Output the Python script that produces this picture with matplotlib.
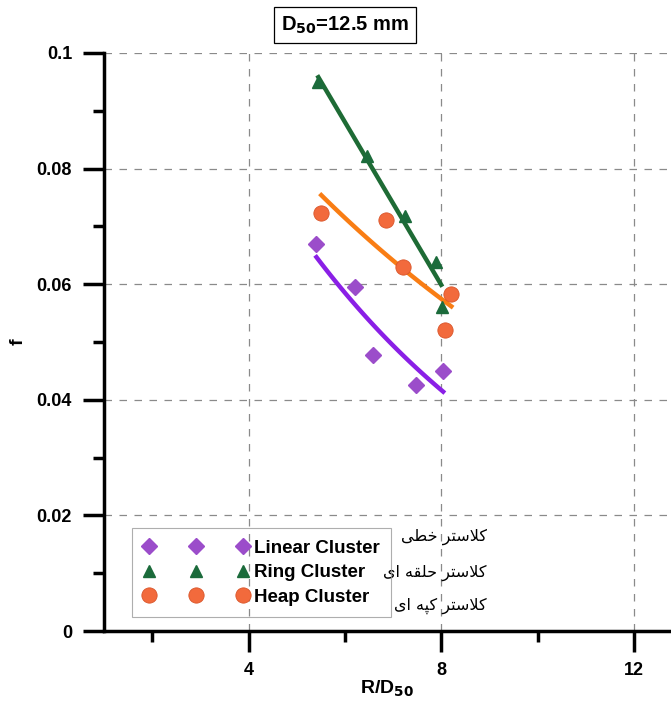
import numpy as np
import matplotlib
matplotlib.use('Agg')
import matplotlib.pyplot as plt
from matplotlib.ticker import MultipleLocator

plt.rcParams['font.family'] = ['Liberation Sans', 'DejaVu Sans']
plt.rcParams['font.weight'] = 'bold'

# data
linear_x = [5.41, 6.20, 6.59, 7.48, 8.04]
linear_f = [0.0670, 0.0595, 0.0478, 0.0426, 0.0450]
ring_x = [5.45, 6.45, 7.25, 7.90, 8.02]
ring_f = [0.0950, 0.0822, 0.0718, 0.0638, 0.0561]
heap_x = [5.51, 6.86, 7.21, 8.21, 8.08]
heap_f = [0.0723, 0.0711, 0.0630, 0.0583, 0.0521]

labels = ['Linear Cluster', 'Ring Cluster', 'Heap Cluster']

# persian notes, written with presentation forms then put in visual order
fa_linear = '\uFB90\uFEFC\uFEB3\uFE98\uFEAE \uFEA7\uFEC4\uFBFD'[::-1]
fa_ring = '\uFB90\uFEFC\uFEB3\uFE98\uFEAE \uFEA3\uFEE0\uFED8\uFEEA \uFE8D\uFBFC'[::-1]
fa_heap = '\uFB90\uFEFC\uFEB3\uFE98\uFEAE \uFB90\uFB59\uFEEA \uFE8D\uFBFC'[::-1]


def linfit(x, y):
    x = np.array(x)
    b, a = np.polyfit(x, y, 1)
    xs = np.linspace(x.min(), 8.0, 50)
    return xs, a + b * xs


def expfit(x, y):
    x = np.array(x)
    y = np.array(y)
    b, a = np.polyfit(x, np.log(y), 1)
    xs = np.linspace(x.min(), x.max(), 50)
    return xs, np.exp(a + b * xs)


fig = plt.figure(figsize=(6.71, 7.11), dpi=100)
ax = fig.add_axes([0.155, 0.1125, 0.845, 0.813])

xs, ys = linfit(ring_x, ring_f)
ax.plot(xs, ys, color='#1e6b35', lw=3.2, zorder=3)
xs, ys = expfit(heap_x, heap_f)
ax.plot(xs, ys, color='#f97d14', lw=3.2, zorder=3)
xs, ys = expfit(linear_x, linear_f)
ax.plot(xs, ys, color='#8a1fe6', lw=3.2, zorder=3)

ax.plot(linear_x, linear_f, 'D', color='#9b4dca', ms=8, ls='none', label=labels[0], zorder=4)
ax.plot(ring_x, ring_f, '^', color='#1b6b3b', ms=9, ls='none', label=labels[1], zorder=4)
ax.plot(heap_x, heap_f, 'o', color='#f26a3c', mec='#d9552a', mew=0.6, ms=11, ls='none', label=labels[2], zorder=4)

ax.set_xlim(1, 12.77)
ax.set_ylim(0, 0.1)
ax.xaxis.set_minor_locator(MultipleLocator(2))
ax.yaxis.set_minor_locator(MultipleLocator(0.01))
ax.set_yticks([0, 0.02, 0.04, 0.06, 0.08, 0.1])
ax.set_yticklabels(['0', '0.02', '0.04', '0.06', '0.08', '0.1'])
ax.set_xticks([4, 8, 12])
ax.set_xticklabels(['4', '8', '12'])

for s in ['top', 'right']:
    ax.spines[s].set_visible(False)
for s in ['left', 'bottom']:
    ax.spines[s].set_linewidth(2.5)

ax.tick_params(which='major', direction='out', length=15, width=2.5, labelsize=13)
ax.tick_params(axis='y', which='major', pad=8)
ax.tick_params(axis='x', which='major', pad=7)
ax.tick_params(which='minor', direction='out', length=8, width=2.5)
ax.grid(True, which='major', ls=(0, (6, 6)), color='#8a8a8a', lw=0.9)
ax.set_axisbelow(True)

ax.set_xlabel('R/D$_{50}$', fontsize=14, fontweight='bold', labelpad=0)
ax.set_ylabel('f', fontsize=14, fontweight='bold')
ax.yaxis.set_label_coords(-0.137, 0.5)

leg = ax.legend(loc='lower left', bbox_to_anchor=(0.05, 0.024), numpoints=3,
                handlelength=5.6, handletextpad=0.3, fontsize=13.5, frameon=True,
                fancybox=False, borderpad=0.6, labelspacing=0.4, borderaxespad=0)
leg.get_frame().set_facecolor('none')
leg.get_frame().set_edgecolor('#9a9a9a')
leg.get_frame().set_linewidth(0.8)

for txt, yy in zip([fa_linear, fa_ring, fa_heap], [0.163, 0.100, 0.043]):
    ax.text(0.675, yy, txt, transform=ax.transAxes, ha='right', va='center',
            fontsize=11.5, fontweight='normal', family=['DejaVu Sans'])

fig.text(0.514, 0.965, 'D$_{50}$=12.5 mm', ha='center', va='center', fontsize=14.5,
         fontweight='bold',
         bbox=dict(boxstyle='square,pad=0.35', fc='white', ec='black', lw=0.9))

fig.savefig('out.png', dpi=100)
